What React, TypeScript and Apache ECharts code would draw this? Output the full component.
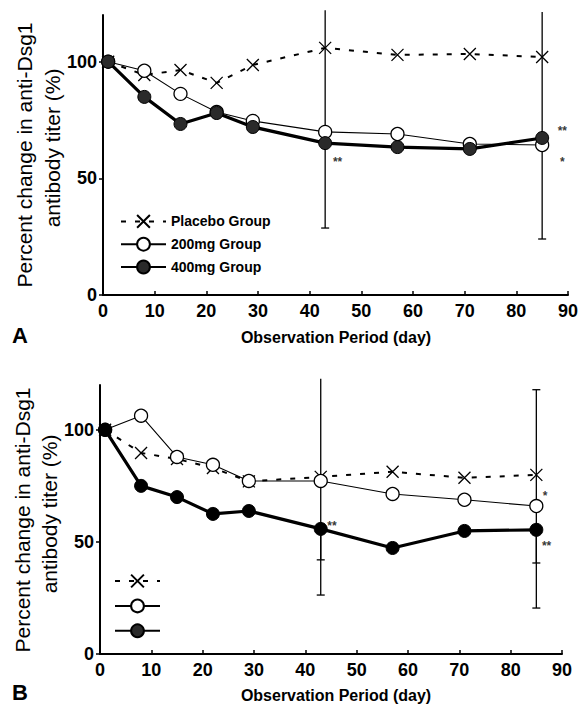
import React, { useEffect, useRef } from 'react';
import * as echarts from 'echarts';

// Observation days (x)
const days = [1, 8, 15, 22, 29, 43, 57, 71, 85];
const seriesNames = ['Placebo Group', '200mg Group', '400mg Group'];
const yTickValues = [0, 50, 100];

// Panel A values (% change)
const placeboA = [100, 94.3, 96.4, 90.9, 98.6, 105.9, 102.9, 103.3, 102];
const dose200A = [100, 96.1, 86.2, 78.4, 74.6, 69.9, 69, 64.7, 64.3];
const dose400A = [100, 84.9, 73.3, 78, 72, 65.1, 63.4, 62.6, 67.3];

// Panel B values (% change)
const placeboB = [100, 89.7, 87, 83, 77, 79, 81.3, 78.6, 79.9];
const dose200B = [100, 106.3, 87.9, 84.4, 77.2, 77.2, 71.4, 68.8, 66];
const dose400B = [100, 75, 70, 62.5, 63.8, 55.8, 47.3, 54.9, 55.4];

// Error bars: [day, low, high, capLow, capHigh]
const errA = [
  [43, 28.7, 122, 1, 0],
  [85, 24, 121.3, 1, 0],
];
const errB = [
  [43, 26.3, 122.8, 1, 0],
  [43, 42, 55.8, 1, 0],
  [85, 20.5, 117.9, 1, 1],
  [85, 40.6, 55.4, 1, 0],
];

// Significance marks: [day, value, text]
const sigA = [
  [45.4, 58.3, '**'],
  [88.9, 71.6, '**'],
  [88.9, 58.3, '*'],
];
const sigB = [
  [45.2, 58.5, '**'],
  [86.7, 71.9, '*'],
  [87, 49.5, '**'],
];

const FONT = '"Liberation Sans", Arial, Helvetica, sans-serif';
const X_SYMBOL = 'path://M0,0L12,12M12,0L0,12';

function pair(vals: number[]) {
  return days.map((d, i) => [d, vals[i]]);
}

function lineSeries(idx: number, name: string, vals: number[], kind: number, fillDark: string) {
  const base: any = {
    type: 'line',
    name,
    xAxisIndex: idx,
    yAxisIndex: idx,
    data: pair(vals),
    z: 3 + kind,
    emphasis: { disabled: true },
    silent: true,
  };
  if (kind === 0) {
    return {
      ...base,
      symbol: X_SYMBOL,
      symbolSize: 12,
      symbolKeepAspect: true,
      lineStyle: { color: '#000', width: 2, type: [5, 9] },
      itemStyle: { color: '#000', borderColor: '#000', borderWidth: 1.3 },
    };
  }
  if (kind === 1) {
    return {
      ...base,
      symbol: 'circle',
      symbolSize: 13,
      lineStyle: { color: '#000', width: 1.1 },
      itemStyle: { color: '#fff', borderColor: '#000', borderWidth: 1.3 },
    };
  }
  return {
    ...base,
    symbol: 'circle',
    symbolSize: 13,
    lineStyle: { color: '#000', width: 3.2 },
    itemStyle: { color: fillDark, borderColor: '#000', borderWidth: 1 },
  };
}

function errSeries(idx: number, data: any[]) {
  return {
    type: 'custom',
    xAxisIndex: idx,
    yAxisIndex: idx,
    data,
    z: 2,
    silent: true,
    renderItem: (params: any, api: any) => {
      const x = api.value(0);
      const p1 = api.coord([x, api.value(1)]);
      const p2 = api.coord([x, api.value(2)]);
      const st = { stroke: '#000', lineWidth: 1.3 };
      const children: any[] = [
        { type: 'line', shape: { x1: p1[0], y1: p1[1], x2: p2[0], y2: p2[1] }, style: st },
      ];
      if (api.value(3)) {
        children.push({ type: 'line', shape: { x1: p1[0] - 4, y1: p1[1], x2: p1[0] + 4, y2: p1[1] }, style: st });
      }
      if (api.value(4)) {
        children.push({ type: 'line', shape: { x1: p2[0] - 4, y1: p2[1], x2: p2[0] + 4, y2: p2[1] }, style: st });
      }
      return { type: 'group', children };
    },
  };
}

function sigSeries(idx: number, data: any[]) {
  return {
    type: 'scatter',
    xAxisIndex: idx,
    yAxisIndex: idx,
    data,
    symbolSize: 1,
    silent: true,
    itemStyle: { color: 'rgba(0,0,0,0)' },
    label: {
      show: true,
      position: 'inside',
      offset: [0, 3],
      formatter: (p: any) => p.value[2],
      color: '#000',
      fontSize: 12,
      fontWeight: 'bold',
      fontFamily: FONT,
    },
    z: 6,
  };
}

function xAxis(idx: number) {
  return {
    type: 'value',
    gridIndex: idx,
    min: 0,
    max: 90,
    interval: 10,
    splitLine: { show: false },
    axisLine: { show: true, onZero: false, lineStyle: { color: '#000', width: 2 } },
    axisTick: { show: true, inside: true, length: 4, lineStyle: { color: '#000', width: 1.5 } },
    axisLabel: { color: '#000', fontSize: 18, fontWeight: 'bold', fontFamily: FONT, margin: 7 },
  };
}

function yAxis(idx: number) {
  return {
    type: 'value',
    gridIndex: idx,
    min: 0,
    max: 120,
    interval: 10,
    splitLine: { show: false },
    axisLine: { show: true, onZero: false, lineStyle: { color: '#000', width: 2 } },
    axisTick: { show: true, inside: false, length: 4, customValues: yTickValues, lineStyle: { color: '#000', width: 1.5 } },
    axisLabel: {
      color: '#000',
      fontSize: 18,
      fontWeight: 'bold',
      fontFamily: FONT,
      margin: 6,
      customValues: yTickValues,
    },
  };
}

function rotText(x: number, y: number, text: string) {
  return {
    type: 'text',
    x,
    y,
    rotation: Math.PI / 2,
    style: {
      text,
      fill: '#000',
      font: `21px ${FONT}`,
      align: 'center',
      verticalAlign: 'middle',
    },
  };
}

function plainText(x: number, y: number, text: string, size: number) {
  return {
    type: 'text',
    x,
    y,
    style: {
      text,
      fill: '#000',
      font: `bold ${size}px ${FONT}`,
      align: 'center',
      verticalAlign: 'middle',
    },
  };
}

export default function App() {
  const ref = useRef<HTMLDivElement>(null);

  useEffect(() => {
    if (!ref.current) return;
    const chart = echarts.init(ref.current, undefined, { renderer: 'svg' });
    const legendCommon = {
      orient: 'vertical',
      data: seriesNames,
      itemWidth: 45,
      itemHeight: 16,
      selectedMode: false,
      textStyle: { color: '#000', fontSize: 14, fontWeight: 'bold', fontFamily: FONT },
    };
    chart.setOption({
      animation: false,
      backgroundColor: '#fff',
      textStyle: { fontFamily: FONT },
      grid: [
        { left: 103, top: 15, width: 469, height: 280 },
        { left: 100, top: 385, width: 462, height: 269 },
      ],
      xAxis: [xAxis(0), xAxis(1)],
      yAxis: [yAxis(0), yAxis(1)],
      legend: [
        { ...legendCommon, left: 115, top: 209, itemGap: 8 },
        { ...legendCommon, left: 109, top: 568, itemGap: 9.5, formatter: () => '' },
      ],
      graphic: [
        rotText(24, 155, 'Percent change in anti-Dsg1'),
        rotText(52, 148, 'antibody titer (%)'),
        rotText(22, 520, 'Percent change in anti-Dsg1'),
        rotText(49, 514, 'antibody titer (%)'),
        plainText(336, 337, 'Observation Period (day)', 16),
        plainText(336, 695, 'Observation Period (day)', 16),
        plainText(20, 335, 'A', 22),
        plainText(20, 692, 'B', 22),
      ],
      series: [
        errSeries(0, errA),
        lineSeries(0, seriesNames[0], placeboA, 0, '#222'),
        lineSeries(0, seriesNames[1], dose200A, 1, '#222'),
        lineSeries(0, seriesNames[2], dose400A, 2, '#2a2a2a'),
        sigSeries(0, sigA),
        errSeries(1, errB),
        lineSeries(1, seriesNames[0], placeboB, 0, '#000'),
        lineSeries(1, seriesNames[1], dose200B, 1, '#000'),
        lineSeries(1, seriesNames[2], dose400B, 2, '#000'),
        sigSeries(1, sigB),
      ],
    });
    return () => chart.dispose();
  }, []);

  return (
    <div
      ref={ref}
      style={{ position: 'fixed', left: 0, top: 0, width: 581, height: 706, background: '#fff' }}
    />
  );
}
